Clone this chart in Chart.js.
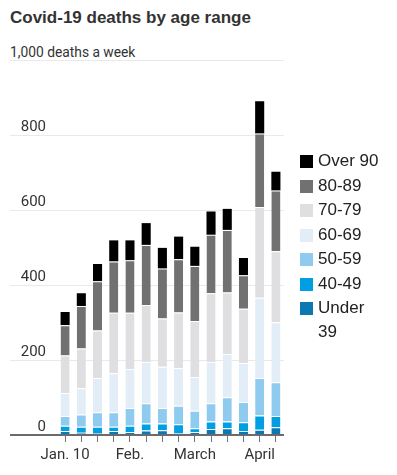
<!DOCTYPE html>
<html>
<head>
<meta charset="utf-8">
<script src="https://cdn.jsdelivr.net/npm/chart.js@4.4.1/dist/chart.umd.min.js"></script>
<style>
  body { margin: 0; background: #fff; width: 397px; height: 475px; position: relative; overflow: hidden;
         font-family: "Liberation Sans", Arial, sans-serif; color: #333; }
  #title { position: absolute; left: 10px; top: 8px; font-weight: bold; font-size: 17px; color: #333; white-space: nowrap; }
  #sub { position: absolute; left: 10px; top: 43px; font-family: Roboto, sans-serif;
         font-size: 15px; color: #333; white-space: nowrap; transform: scaleX(0.92); transform-origin: 0 0; }
  #chart { position: absolute; left: 0; top: 0; }
  #legend { position: absolute; left: 300px; top: 149px; }
  .row { display: flex; align-items: flex-start; height: 24.5px; font-size: 17px; line-height: 24px; color: #222; }
  .sw { width: 13px; height: 13px; margin-top: 6px; margin-right: 5px; flex: none; }
  .txt { max-width: 64px; }
</style>
</head>
<body>
<div id="title">Covid-19 deaths by age range</div>
<div id="sub">1,000 deaths a week</div>
<canvas id="chart" width="397" height="475"></canvas>
<div id="legend"></div>
<script>
// weekly buckets, Jan. 10 to April 11
const weeks = ["Jan. 10", "Jan. 17", "Jan. 24", "Jan. 31", "Feb. 7", "Feb. 14", "Feb. 21",
  "Feb. 28", "Mar. 7", "Mar. 14", "Mar. 21", "Mar. 28", "Apr. 4", "Apr. 11"];
const xTickLabels = ["Jan. 10", "", "", "", "Feb.", "", "", "", "March", "", "", "", "April", ""];
const yTicks = [0, 200, 400, 600, 800, 1000];

const ageGroups = ["Under 39", "40-49", "50-59", "60-69", "70-79", "80-89", "Over 90"];
const under39 = [11, 6, 5, 11, 8, 12, 13, 4, 8, 16, 18, 11, 14, 21];
const age40s = [14, 16, 17, 11, 17, 19, 18, 25, 10, 20, 18, 23, 38, 30];
const age50s = [26, 33, 39, 39, 47, 54, 41, 49, 47, 49, 65, 54, 100, 90];
const age60s = [61, 70, 91, 104, 104, 110, 110, 101, 90, 110, 115, 104, 214, 160];
const age70s = [100, 106, 127, 161, 150, 152, 129, 148, 149, 183, 164, 145, 242, 189];
const age80s = [81, 113, 131, 137, 140, 160, 133, 142, 147, 156, 167, 89, 196, 162];
const over90 = [35, 34, 46, 56, 53, 58, 55, 60, 51, 62, 56, 46, 86, 50];

const seriesValues = [under39, age40s, age50s, age60s, age70s, age80s, over90];
const colors = ["#0b77b3", "#009fe3", "#8fcbee", "#e3edf8", "#dfdfe1", "#717171", "#000000"];

const axisFont = "Roboto, sans-serif";

const datasets = ageGroups.map((name, i) => ({
  label: name,
  data: seriesValues[i],
  backgroundColor: colors[i],
  borderColor: "#fff",
  borderWidth: i === ageGroups.length - 1 ? 0 : { top: 1 },
  borderSkipped: "start",
  barPercentage: 1,
  categoryPercentage: 0.56,
}));

new Chart(document.getElementById("chart").getContext("2d"), {
  type: "bar",
  data: { labels: weeks, datasets },
  options: {
    responsive: false,
    animation: false,
    layout: { padding: { left: 10, top: 60, right: 113, bottom: 0 } },
    plugins: { legend: { display: false }, tooltip: { enabled: false } },
    scales: {
      x: {
        stacked: true,
        border: { display: false },
        grid: {
          offset: false,
          drawOnChartArea: false,
          drawTicks: true,
          tickLength: 7,
          color: "#777",
          lineWidth: 1,
        },
        ticks: {
          autoSkip: false,
          maxRotation: 0,
          padding: 4,
          color: "#333",
          font: { family: axisFont, size: 15 },
          callback: (value, index) => xTickLabels[index],
        },
        afterFit: (scale) => {
          scale.height = 40;
          scale.paddingLeft = 0;
          scale.paddingRight = 0;
        },
      },
      y: {
        stacked: true,
        min: 0,
        max: 1000,
        border: { display: false },
        afterBuildTicks: (scale) => {
          scale.ticks = yTicks.map((v) => ({ value: v }));
        },
        grid: {
          drawTicks: true,
          tickLength: 47,
          color: (ctx) => (ctx.tick && ctx.tick.value === 0 ? "#6b6b6b" : "#e9e9e9"),
          lineWidth: (ctx) => (ctx.tick && ctx.tick.value === 0 ? 2 : 1),
        },
        ticks: {
          crossAlign: "near",
          padding: -36,
          labelOffset: -8,
          color: "#333",
          font: { family: axisFont, size: 15 },
          callback: (value) => (value === 1000 ? "" : value),
        },
        afterFit: (scale) => {
          scale.width = 47;
          scale.paddingTop = 0;
          scale.paddingBottom = 0;
        },
      },
    },
  },
});

// legend, top group first
const legend = document.getElementById("legend");
for (let i = ageGroups.length - 1; i >= 0; i--) {
  const row = document.createElement("div");
  row.className = "row";
  row.innerHTML = `<span class="sw" style="background:${colors[i]}"></span><span class="txt">${ageGroups[i]}</span>`;
  legend.appendChild(row);
}
</script>
</body>
</html>
